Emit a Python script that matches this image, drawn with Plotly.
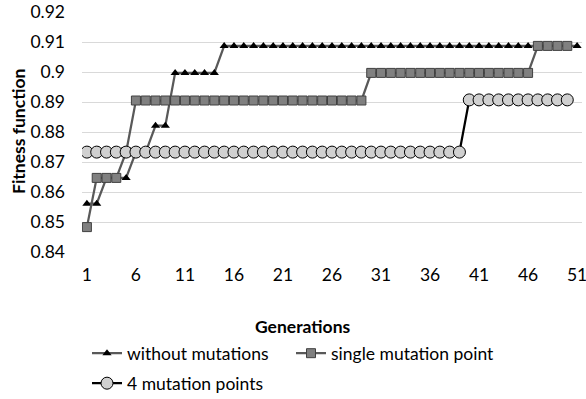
import plotly.graph_objects as go

generations = list(range(1, 52))

without_mutations = ([0.8561, 0.8561, 0.8647, 0.8647, 0.8647, 0.8733, 0.8733, 0.8821, 0.8821]
                     + [0.8997] * 5 + [0.9087] * 37)
single_mutation = ([0.8483, 0.8647, 0.8647, 0.8647, 0.8733]
                   + [0.8905] * 24 + [0.8997] * 17 + [0.9087] * 4)
four_mutation = [0.8733] * 39 + [0.8907] * 11

x_ticks = [1, 6, 11, 16, 21, 26, 31, 36, 41, 46, 51]
y_ticks = [0.84, 0.85, 0.86, 0.87, 0.88, 0.89, 0.90, 0.91, 0.92]
y_tick_text = ["0.84", "0.85", "0.86", "0.87", "0.88", "0.89", "0.9", "0.91", "0.92"]

FONT = "Lato"
FS = 17.5
W, H = 586, 399
ML, MR, MT, MB = 82, 4, 12, 147
PW, PH = W - ML - MR, H - MT - MB

def px_x(px):
    return (px - ML) / PW

def px_y(py):
    return (H - MB - py) / PH

fig = go.Figure()
fig.add_trace(go.Scatter(
    x=generations[:len(without_mutations)], y=without_mutations, name="without mutations",
    mode="lines+markers",
    line=dict(color="#595959", width=2.25),
    marker=dict(symbol="triangle-up", size=8, color="#000000", line=dict(width=0)),
    legend="legend"))
fig.add_trace(go.Scatter(
    x=generations[:len(single_mutation)], y=single_mutation, name="single mutation point",
    mode="lines+markers",
    line=dict(color="#595959", width=2.25),
    marker=dict(symbol="square", size=9, color="#808080", line=dict(width=1, color="#404040")),
    legend="legend3"))
fig.add_trace(go.Scatter(
    x=generations[:len(four_mutation)], y=four_mutation, name="4 mutation points",
    mode="lines+markers",
    line=dict(color="#000000", width=2.25),
    marker=dict(symbol="circle", size=12, color="#d0d0d0", line=dict(width=1, color="#000000")),
    legend="legend2"))

def legend_box(x_px, y_px):
    return dict(orientation="h", x=px_x(x_px), y=px_y(y_px), xanchor="left", yanchor="middle",
                font=dict(family=FONT, size=FS, color="#000000"), bgcolor="rgba(0,0,0,0)",
                itemwidth=30)

fig.update_layout(
    width=W, height=H,
    margin=dict(l=ML, r=MR, t=MT, b=MB, pad=0, autoexpand=False),
    paper_bgcolor="white", plot_bgcolor="white",
    font=dict(family=FONT, size=FS, color="#000000"),
    showlegend=True,
    legend=legend_box(87, 353.3),
    legend3=legend_box(291, 353.3),
    legend2=legend_box(87, 383.3),
    xaxis=dict(range=[0.5, 51.5], tickmode="array", tickvals=x_ticks,
               ticktext=[str(v) for v in x_ticks], showgrid=False, zeroline=False,
               showline=False, ticks="", ticklabelstandoff=10, ticklabeloverflow="allow",
               automargin=False,
               tickfont=dict(family=FONT, size=FS, color="#000000")),
    yaxis=dict(range=[0.84, 0.92], tickmode="array", tickvals=y_ticks, ticktext=y_tick_text,
               showgrid=True, gridcolor="#d9d9d9", gridwidth=1, zeroline=False,
               showline=False, ticks="", ticklabelstandoff=16, automargin=False,
               tickfont=dict(family=FONT, size=FS, color="#000000")),
    annotations=[
        dict(text="<b>Generations</b>", xref="paper", yref="paper", x=px_x(303), y=px_y(326.7),
             xanchor="center", yanchor="middle", showarrow=False,
             font=dict(family=FONT, size=FS, color="#000000")),
        dict(text="<b>Fitness function</b>", xref="paper", yref="paper", x=px_x(18), y=0.5,
             xanchor="center", yanchor="middle", showarrow=False, textangle=-90,
             font=dict(family=FONT, size=FS, color="#000000")),
    ],
)

fig.write_html("out.html")
